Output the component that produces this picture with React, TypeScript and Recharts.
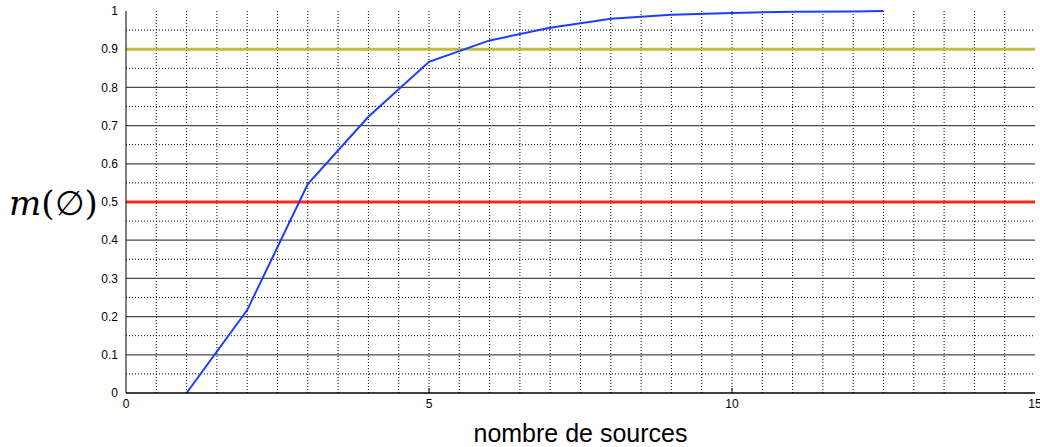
import { Line, LineChart, ReferenceLine, XAxis, YAxis } from "recharts";

// number of sources vs mass on the empty set
const sources = [1, 2, 3, 4, 5, 6, 7, 8, 9, 10, 11, 12, 12.5];
const massEmpty = [0, 0.217, 0.547, 0.723, 0.867, 0.923, 0.956, 0.98, 0.99, 0.995, 0.998, 0.999, 1];

const xTicks = [0, 5, 10, 15];
const xInnerTicks = [5, 10];
const yTicks = [0, 0.1, 0.2, 0.3, 0.4, 0.5, 0.6, 0.7, 0.8, 0.9, 1];
const solidGrid = [0.1, 0.2, 0.3, 0.4, 0.6, 0.7, 0.8];
const dottedGridY = [0.05, 0.15, 0.25, 0.35, 0.45, 0.55, 0.65, 0.75, 0.85, 0.95];
const dottedGridX = [
  0.5, 1, 1.5, 2, 2.5, 3, 3.5, 4, 4.5, 5, 5.5, 6, 6.5, 7, 7.5, 8, 8.5, 9, 9.5, 10,
  10.5, 11, 11.5, 12, 12.5, 13, 13.5, 14, 14.5,
];
const thresholds = [
  { value: 0.5, color: "#ff2a1a" },
  { value: 0.9, color: "#c2be3c" },
];

const data = sources.map((x, i) => ({ x, m: massEmpty[i] }));

const FONT = "'Liberation Sans', Arial, sans-serif";

function BottomTick(props: any) {
  const { x, y, payload } = props;
  const axisY = y - 6;
  const inner = xInnerTicks.includes(payload.value);
  return (
    <g>
      {inner ? <line x1={x} x2={x} y1={axisY} y2={axisY - 5} stroke="#000" /> : null}
      <text x={x} y={y} dy="0.71em" textAnchor="middle" fontSize={12} fontFamily={FONT} fill="#000">
        {payload.value}
      </text>
    </g>
  );
}

function TopTick(props: any) {
  const { x, y } = props;
  return <line x1={x} x2={x} y1={y} y2={y + 5} stroke="#000" />;
}

function LeftTick(props: any) {
  const { x, y, payload } = props;
  return (
    <text x={x} y={y} dy="0.35em" textAnchor="end" fontSize={12} fontFamily={FONT} fill="#000">
      {payload.value}
    </text>
  );
}

function YTitle(props: any) {
  const { viewBox } = props;
  const cy = viewBox.y + viewBox.height / 2 + 13;
  return (
    <text x={9} y={cy} fontSize={34} fontFamily="'DejaVu Serif', 'Liberation Serif', serif" fill="#000">
      <tspan fontStyle="italic">m</tspan>
      <tspan>(∅)</tspan>
    </text>
  );
}

export default function App() {
  return (
    <div style={{ position: "absolute", left: 0, top: 0, width: 1040, height: 447, background: "#fff" }}>
      <LineChart width={1040} height={447} data={data} margin={{ top: 11, right: 5, left: 66, bottom: 0 }}>
        <XAxis
          dataKey="x"
          type="number"
          domain={[0, 15]}
          ticks={xTicks}
          interval={0}
          height={54}
          tickSize={0}
          tickMargin={6}
          tickLine={false}
          tick={<BottomTick />}
          axisLine={{ stroke: "#000", strokeWidth: 1.5 }}
          label={{
            value: "nombre de sources",
            position: "insideBottom",
            offset: 5,
            fontSize: 25,
            fontFamily: FONT,
            fill: "#000",
          }}
        />
        <XAxis
          xAxisId="top"
          orientation="top"
          dataKey="x"
          type="number"
          domain={[0, 15]}
          ticks={xInnerTicks}
          height={0}
          tickSize={0}
          tickMargin={0}
          tickLine={false}
          tick={<TopTick />}
          axisLine={{ stroke: "#000" }}
        />
        <YAxis
          type="number"
          domain={[0, 1]}
          ticks={yTicks}
          interval={0}
          width={60}
          tickSize={0}
          tickMargin={8}
          tickLine={false}
          tick={<LeftTick />}
          axisLine={{ stroke: "#000" }}
          label={{ content: <YTitle /> }}
        />
        <YAxis
          yAxisId="right"
          orientation="right"
          type="number"
          domain={[0, 1]}
          width={0}
          tick={false}
          tickLine={false}
          axisLine={{ stroke: "#000", strokeWidth: 1.5 }}
        />
        {dottedGridX.map((v) => (
          <ReferenceLine key={`vx${v}`} x={v} stroke="#000" strokeWidth={1} strokeDasharray="1 2" />
        ))}
        {dottedGridY.map((v) => (
          <ReferenceLine key={`dy${v}`} y={v} stroke="#000" strokeWidth={1} strokeDasharray="1 2" />
        ))}
        {solidGrid.map((v) => (
          <ReferenceLine key={`sy${v}`} y={v} stroke="#4a4a4a" strokeWidth={1.2} />
        ))}
        {thresholds.map((t) => (
          <ReferenceLine key={`t${t.value}`} y={t.value} stroke={t.color} strokeWidth={3} />
        ))}
        <Line
          type="linear"
          dataKey="m"
          stroke="#1f3dff"
          strokeWidth={2}
          dot={false}
          isAnimationActive={false}
        />
      </LineChart>
    </div>
  );
}
